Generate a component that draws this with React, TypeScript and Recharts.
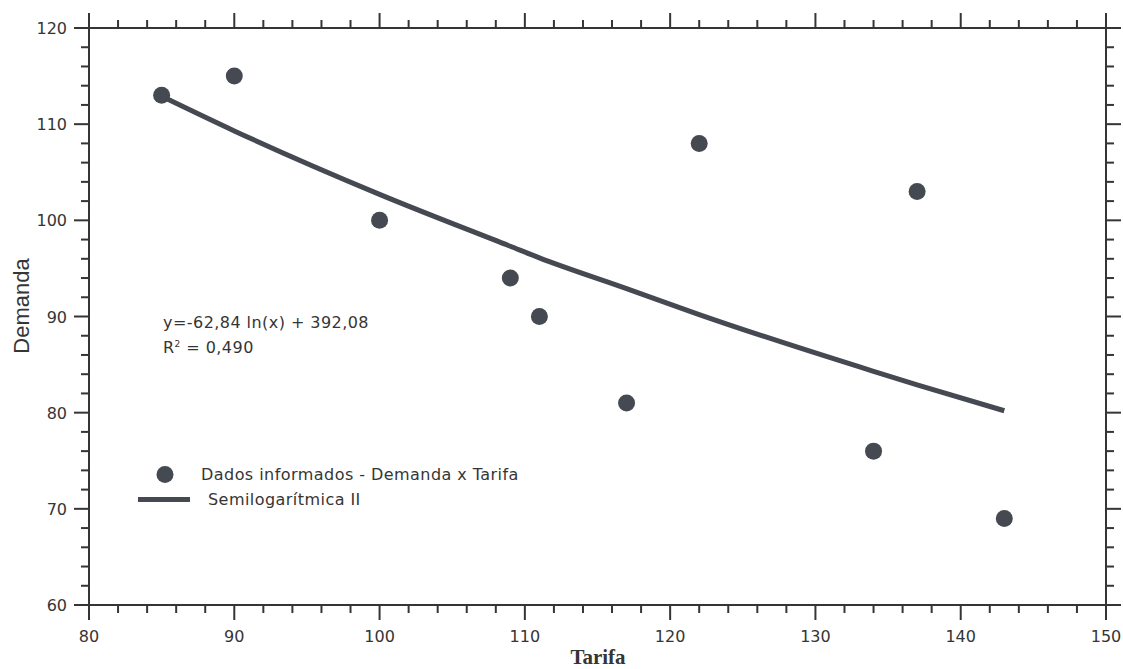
import React from "react";
import {
  ComposedChart,
  Scatter,
  Line,
  XAxis,
  YAxis,
  Legend,
} from "recharts";

// ---- data ----
const tarifa = [85, 90, 100, 109, 111, 117, 122, 134, 137, 143];
const demanda = [113, 115, 100, 94, 90, 81, 108, 76, 103, 69];
// values (Semilogarítmica II) at each tariff
const ajuste = [112.9, 109.3, 102.7, 97.3, 96.1, 92.9, 90.2, 84.3, 82.9, 80.2];

const xTicks = [
  80, 82, 84, 86, 88, 90, 92, 94, 96, 98, 100, 102, 104, 106, 108, 110, 112,
  114, 116, 118, 120, 122, 124, 126, 128, 130, 132, 134, 136, 138, 140, 142,
  144, 146, 148, 150,
];
const yTicks = [
  60, 62, 64, 66, 68, 70, 72, 74, 76, 78, 80, 82, 84, 86, 88, 90, 92, 94, 96,
  98, 100, 102, 104, 106, 108, 110, 112, 114, 116, 118, 120,
];

const serieDados = "Dados informados - Demanda x Tarifa";
const serieAjuste = "Semilogarítmica II";
const equacao = "y=-62,84 ln(x) + 392,08";
const r2Texto = "0,490";

const rows = tarifa.map((t, i) => ({ tarifa: t, demanda: demanda[i], ajuste: ajuste[i] }));

const INK = "#353535";
const MARK = "#454951";
const TICK_FONT = "'DejaVu Sans', sans-serif";

const MAJOR = 15;
const MINOR = 8;

const BottomTick = (props: any) => {
  const { x, y, payload } = props;
  const v = payload.value;
  const major = v % 10 === 0;
  return (
    <g>
      <line x1={x} x2={x} y1={y} y2={y + (major ? MAJOR : MINOR)} stroke={INK} strokeWidth={2} />
      {major && (
        <text x={x} y={y + 37} textAnchor="middle" fontSize={16} fontFamily={TICK_FONT} fill={INK}>
          {v}
        </text>
      )}
    </g>
  );
};

const TopTick = (props: any) => {
  const { x, y, payload } = props;
  const major = payload.value % 10 === 0;
  return <line x1={x} x2={x} y1={y} y2={y - (major ? MAJOR : MINOR)} stroke={INK} strokeWidth={2} />;
};

const LeftTick = (props: any) => {
  const { x, y, payload } = props;
  const v = payload.value;
  const major = v % 10 === 0;
  return (
    <g>
      <line x1={x} x2={x - (major ? MAJOR : MINOR)} y1={y} y2={y} stroke={INK} strokeWidth={2} />
      {major && (
        <text x={x - 22} y={y + 6} textAnchor="end" fontSize={16} fontFamily={TICK_FONT} fill={INK}>
          {v}
        </text>
      )}
    </g>
  );
};

const RightTick = (props: any) => {
  const { x, y, payload } = props;
  const major = payload.value % 10 === 0;
  return <line x1={x} x2={x + (major ? MAJOR : MINOR)} y1={y} y2={y} stroke={INK} strokeWidth={2} />;
};

const TEXT_STYLE = {
  fontFamily: TICK_FONT,
  fontSize: 16,
  letterSpacing: "0.45px",
  color: INK,
  lineHeight: "25px",
  whiteSpace: "nowrap" as const,
};

const LegendContent = () => (
  <div style={TEXT_STYLE}>
    <div style={{ display: "flex", alignItems: "center", height: 25 }}>
      <svg width={64} height={25} style={{ display: "block" }}>
        <circle cx={28} cy={12.5} r={8.5} fill={MARK} />
      </svg>
      <span>{serieDados}</span>
    </div>
    <div style={{ display: "flex", alignItems: "center", height: 25 }}>
      <svg width={71} height={25} style={{ display: "block" }}>
        <line x1={1} x2={53} y1={12.5} y2={12.5} stroke={MARK} strokeWidth={5} />
      </svg>
      <span>{serieAjuste}</span>
    </div>
  </div>
);

export default function App() {
  return (
    <div style={{ position: "absolute", left: 0, top: 0, width: 1123, height: 669, background: "#ffffff" }}>
      <ComposedChart
        width={1123}
        height={669}
        data={rows}
        margin={{ top: 18, right: 7, bottom: 24, left: 19 }}
      >
        <XAxis
          xAxisId="bottom"
          dataKey="tarifa"
          type="number"
          domain={[80, 150]}
          ticks={xTicks}
          interval={0}
          orientation="bottom"
          height={40}
          tickSize={0}
          tickMargin={0}
          tickLine={false}
          axisLine={{ stroke: INK, strokeWidth: 2 }}
          tick={<BottomTick />}
          allowDataOverflow
        />
        <XAxis
          xAxisId="top"
          dataKey="tarifa"
          type="number"
          domain={[80, 150]}
          ticks={xTicks}
          interval={0}
          orientation="top"
          height={10}
          tickSize={0}
          tickMargin={0}
          tickLine={false}
          axisLine={{ stroke: INK, strokeWidth: 2 }}
          tick={<TopTick />}
          allowDataOverflow
        />
        <YAxis
          yAxisId="left"
          type="number"
          domain={[60, 120]}
          ticks={yTicks}
          interval={0}
          orientation="left"
          width={70}
          tickSize={0}
          tickMargin={0}
          tickLine={false}
          axisLine={{ stroke: INK, strokeWidth: 2 }}
          tick={<LeftTick />}
          allowDataOverflow
        />
        <YAxis
          yAxisId="right"
          type="number"
          domain={[60, 120]}
          ticks={yTicks}
          interval={0}
          orientation="right"
          width={10}
          tickSize={0}
          tickMargin={0}
          tickLine={false}
          axisLine={{ stroke: INK, strokeWidth: 2 }}
          tick={<RightTick />}
          allowDataOverflow
        />
        <Line
          xAxisId="top"
          yAxisId="right"
          dataKey="ajuste"
          stroke="none"
          dot={false}
          activeDot={false}
          legendType="none"
          isAnimationActive={false}
        />
        <Line
          xAxisId="bottom"
          yAxisId="left"
          name={serieAjuste}
          dataKey="ajuste"
          type="monotone"
          stroke={MARK}
          strokeWidth={5}
          dot={false}
          activeDot={false}
          isAnimationActive={false}
        />
        <Scatter
          xAxisId="bottom"
          yAxisId="left"
          name={serieDados}
          dataKey="demanda"
          fill={MARK}
          shape={(p: any) => <circle cx={p.cx} cy={p.cy} r={8.5} fill={MARK} />}
          isAnimationActive={false}
        />
        <Legend
          layout="vertical"
          align="center"
          verticalAlign="middle"
          content={<LegendContent />}
          wrapperStyle={{ left: 137, top: 462, width: 440, height: 50 }}
        />
      </ComposedChart>
      <div style={{ ...TEXT_STYLE, position: "absolute", left: 163, top: 310 }}>
        <div>{equacao}</div>
        <div>
          R<sup style={{ fontSize: 9, verticalAlign: "6px", lineHeight: 0 }}>2</sup> = {r2Texto}
        </div>
      </div>
      <div
        style={{
          position: "absolute",
          left: 22,
          top: 306,
          transform: "translate(-50%, -50%) rotate(-90deg)",
          fontFamily: "'Liberation Sans', Arial, sans-serif",
          fontSize: 22,
          color: INK,
          whiteSpace: "nowrap",
        }}
      >
        Demanda
      </div>
      <div
        style={{
          position: "absolute",
          left: 598,
          top: 645,
          transform: "translateX(-50%)",
          fontFamily: "'Liberation Serif', 'Times New Roman', serif",
          fontWeight: "bold",
          fontSize: 21,
          color: INK,
          whiteSpace: "nowrap",
          lineHeight: "24px",
        }}
      >
        Tarifa
      </div>
    </div>
  );
}
